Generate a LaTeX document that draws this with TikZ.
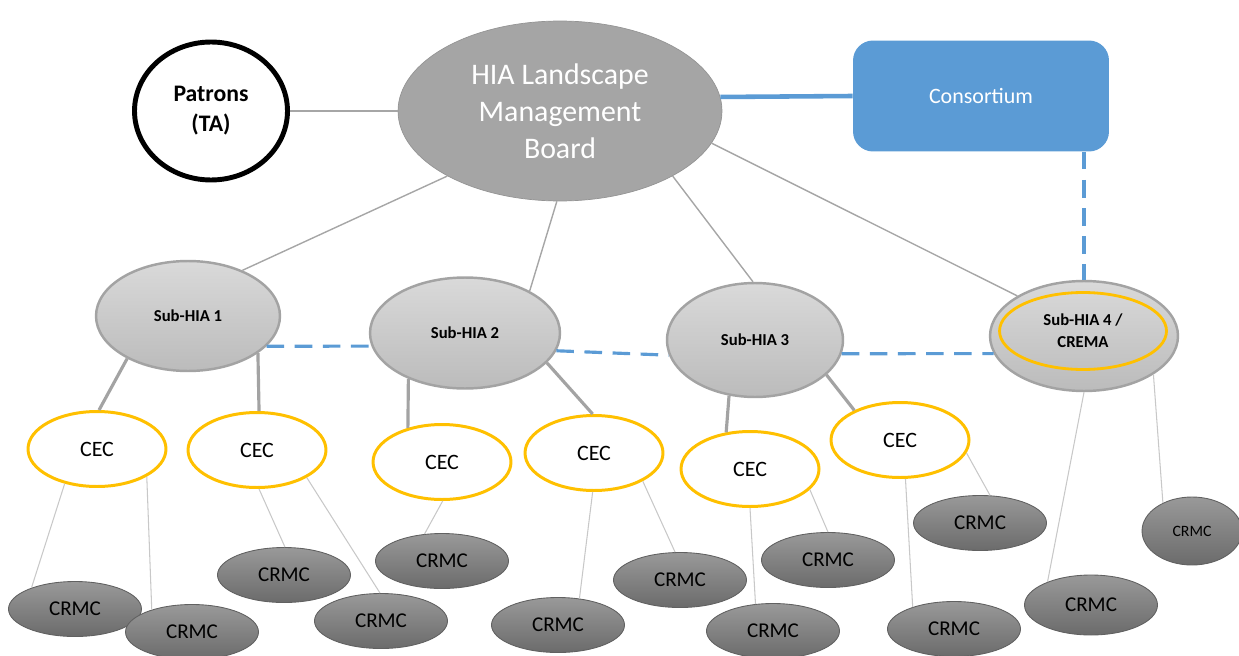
\documentclass[tikz,border=0pt]{standalone}
\usepackage{fontspec}
\setmainfont{Carlito}
\usetikzlibrary{shapes.geometric}
\definecolor{boardgray}{HTML}{A5A5A5}
\definecolor{subgray}{HTML}{D0D0D0}
\definecolor{subline}{HTML}{A3A3A3}
\definecolor{cecgold}{HTML}{FFC000}
\definecolor{consblue}{HTML}{5B9BD5}
\definecolor{linkgray}{HTML}{A6A6A6}
\definecolor{faintgray}{HTML}{C8C8C8}

\begin{document}
\begin{tikzpicture}[x=0.02cm, y=-0.02cm,
	board/.style={ellipse, fill=boardgray, draw=boardgray!90!black, line width=0.4pt, minimum width=6.48cm, minimum height=3.6cm, inner sep=0pt, text=white, align=center, font=\fontsize{17}{21}\selectfont},
	patron/.style={ellipse, draw=black, line width=2.8pt, fill=white, minimum width=3.06cm, minimum height=2.76cm, align=center, font=\bfseries\fontsize{13.5}{17}\selectfont},
	cons/.style={rectangle, rounded corners=0.4cm, fill=consblue, minimum width=5.12cm, minimum height=2.22cm, text=white, font=\fontsize{12.5}{15}\selectfont},
	subhia/.style={ellipse, top color=subgray!80!white, bottom color=subgray!90!black, draw=subline, line width=1.4pt, inner sep=0pt, align=center, font=\bfseries\fontsize{9.5}{12}\selectfont},
	cec/.style={ellipse, draw=cecgold, line width=1.7pt, fill=white, minimum width=2.76cm, minimum height=1.5cm, font=\fontsize{12.5}{14}\selectfont},
	crmc/.style={ellipse, top color=black!40, bottom color=black!58, draw=black!62, line width=0.5pt, minimum width=2.66cm, minimum height=1.1cm, font=\fontsize{12}{14}\selectfont},
	toplink/.style={draw=linkgray, line width=0.8pt},
	sublink/.style={draw=subline, line width=1.8pt},
	leaflink/.style={draw=faintgray, line width=0.6pt},
	partner/.style={draw=consblue, line width=1.8pt, dash pattern=on 10pt off 6pt}]
	%%%%% START %%%%%
	\useasboundingbox (0,0) rectangle (1239,655);
	\clip (0,0) rectangle (1239,655);

	% top level
	\node[board] (board) at (560,111) {HIA Landscape\\Management\\Board};
	\node[patron] (patrons) at (211,111) {Patrons\\(TA)};
	\node[cons] (consortium) at (981,96) {Consortium};

	% sub-HIAs
	\node[subhia, minimum width=3.68cm, minimum height=2.2cm] (sub1) at (188,316) {Sub-HIA 1};
	\node[subhia, minimum width=3.8cm, minimum height=2.22cm] (sub2) at (465,333) {Sub-HIA 2};
	\node[subhia, minimum width=3.52cm, minimum height=2.28cm] (sub3) at (755,340) {Sub-HIA 3};
	\node[subhia, minimum width=3.76cm, minimum height=2.2cm] (sub4) at (1084,336) {};
	\node[ellipse, draw=cecgold, line width=1.6pt, minimum width=3.34cm, minimum height=1.54cm, align=center, font=\bfseries\fontsize{9.5}{12.5}\selectfont] (crema) at (1083,331) {Sub-HIA 4 /\\CREMA};

	% CECs
	\node[cec] (cec1) at (97,449) {CEC};
	\node[cec] (cec2) at (257,450) {CEC};
	\node[cec] (cec3) at (442,462) {CEC};
	\node[cec] (cec4) at (594,453) {CEC};
	\node[cec] (cec5) at (750,469) {CEC};
	\node[cec] (cec6) at (900,440) {CEC};

	% CRMCs
	\node[crmc] (crmc1) at (75,609) {CRMC};
	\node[crmc] (crmc2) at (192,632) {CRMC};
	\node[crmc] (crmc3) at (284,575) {CRMC};
	\node[crmc] (crmc4) at (381,621) {CRMC};
	\node[crmc] (crmc5) at (442,561) {CRMC};
	\node[crmc] (crmc6) at (558,625) {CRMC};
	\node[crmc] (crmc7) at (680,580) {CRMC};
	\node[crmc] (crmc8) at (828,560) {CRMC};
	\node[crmc] (crmc9) at (773,631) {CRMC};
	\node[crmc] (crmc10) at (980,523) {CRMC};
	\node[crmc] (crmc11) at (954,629) {CRMC};
	\node[crmc, minimum height=1.2cm] (crmc12) at (1091,605) {CRMC};
	\node[crmc, minimum width=2.0cm, minimum height=1.36cm, font=\fontsize{9}{11}\selectfont] (crmc13) at (1192,531) {CRMC};

	% links from the board
	\draw[toplink, line width=1.4pt] (patrons.east) -- (board.west);
	\draw[draw=consblue, line width=2.6pt] (board.5) -- (consortium.west);
	\draw[toplink] (board.210) -- (sub1.40);
	\draw[toplink] (board.268) -- (sub2.33);
	\draw[toplink] (board.330) -- (sub3.92);
	\draw[toplink] (board.348) -- (sub4.149);

	% partner links
	\draw[partner] (consortium.south -| sub4.north) -- (sub4.north);
	\draw[partner] (sub1.-21) -- (sub2.188);
	\draw[partner] (sub2.-11) -- (sub3.190);
	\draw[partner] (sub3.-9) -- (sub4.191);

	% sub-HIA to CEC
	\draw[sublink] (sub1.215) -- (cec1.87);
	\draw[sublink] (sub1.332) -- (cec2.87);
	\draw[sublink] (sub2.219) -- (cec3.135);
	\draw[sublink] (sub2.340) -- (cec4.92);
	\draw[sublink] (sub3.245) -- (cec5.123);
	\draw[sublink] (sub3.334) -- (cec6.147);

	% CEC to CRMC
	\draw[leaflink] (cec1.227) -- (crmc1.154);
	\draw[leaflink] (cec1.331) -- (crmc2.151);
	\draw[leaflink] (cec2.273) -- (crmc3.88);
	\draw[leaflink] (cec2.331) -- (crmc4.92);
	\draw[leaflink] (cec3.271) -- (crmc5.123);
	\draw[leaflink] (cec4.268) -- (crmc6.51);
	\draw[leaflink] (cec4.330) -- (crmc7.100);
	\draw[leaflink] (cec5.270) -- (crmc9.123);
	\draw[leaflink] (cec5.341) -- (crmc8.90);
	\draw[leaflink] (cec6.278) -- (crmc11.152);
	\draw[leaflink] (cec6.349) -- (crmc10.70);
	\draw[leaflink] (sub4.270) -- (crmc12.152);
	\draw[leaflink] (sub4.331) -- (crmc13.136);
	%%%%% END %%%%%
\end{tikzpicture}
\end{document}
